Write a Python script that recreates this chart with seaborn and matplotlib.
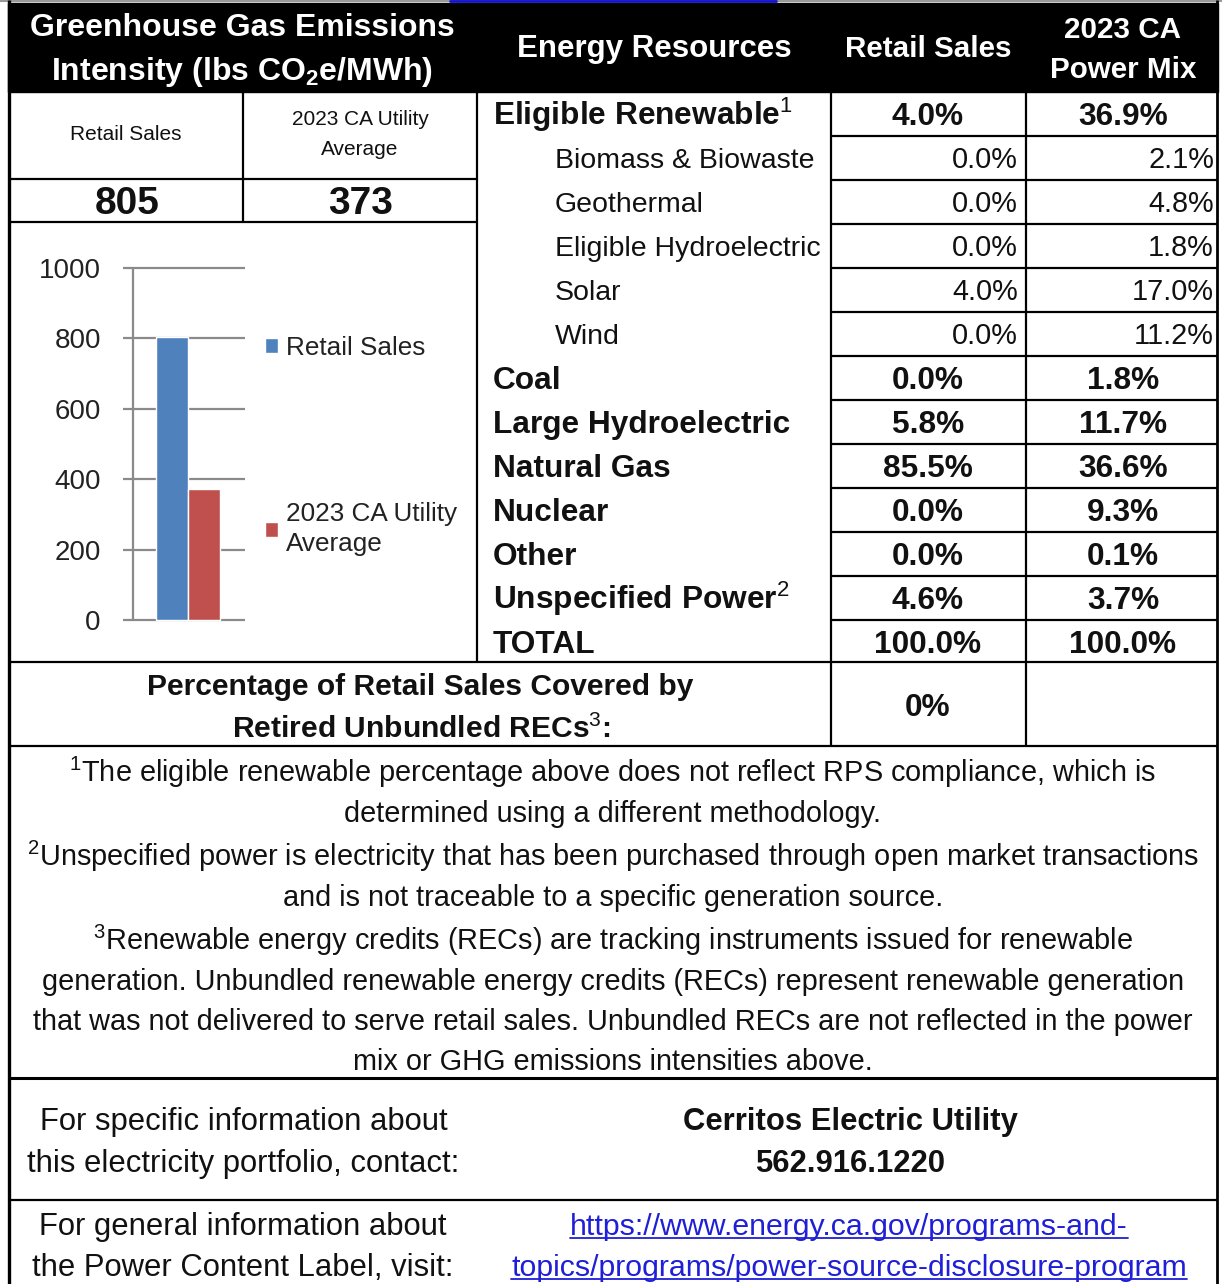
import numpy as np
import pandas as pd
import matplotlib
matplotlib.use('Agg')
import matplotlib.pyplot as plt
import seaborn as sns

# ---- data ----
ghg_series = ['Retail Sales', '2023 CA Utility Average']
ghg_values = [805, 373]
ghg_ticks = [0, 200, 400, 600, 800, 1000]
ghg_colors = ['#4F81BD', '#C0504D']

resources = ['Eligible Renewable', 'Biomass & Biowaste', 'Geothermal',
             'Eligible Hydroelectric', 'Solar', 'Wind', 'Coal',
             'Large Hydroelectric', 'Natural Gas', 'Nuclear', 'Other',
             'Unspecified Power', 'TOTAL']
retail_pct = [4.0, 0.0, 0.0, 0.0, 4.0, 0.0, 0.0, 5.8, 85.5, 0.0, 0.0, 4.6, 100.0]
mix_pct = [36.9, 2.1, 4.8, 1.8, 17.0, 11.2, 1.8, 11.7, 36.6, 9.3, 0.1, 3.7, 100.0]
sub_item = [False, True, True, True, True, True, False, False, False, False, False, False, False]
footmark = ['1', '', '', '', '', '', '', '', '', '', '', '2', '']

rec_covered = '0%'

footnotes = [
    ['$^1$The eligible renewable percentage above does not reflect RPS compliance, which is',
     'determined using a different methodology.'],
    ['$^2$Unspecified power is electricity that has been purchased through open market transactions',
     'and is not traceable to a specific generation source.'],
    ['$^3$Renewable energy credits (RECs) are tracking instruments issued for renewable',
     'generation. Unbundled renewable energy credits (RECs) represent renewable generation',
     'that was not delivered to serve retail sales. Unbundled RECs are not reflected in the power',
     'mix or GHG emissions intensities above.'],
]
contact_lines = ['Cerritos Electric Utility', '562.916.1220']
url_lines = ['https://www.energy.ca.gov/programs-and-',
             'topics/programs/power-source-disclosure-program']

W, H = 1222, 1284

sns.set_theme(style='white')
plt.rcParams['font.family'] = ['Liberation Sans', 'DejaVu Sans']
plt.rcParams['mathtext.fontset'] = 'custom'
plt.rcParams['mathtext.rm'] = 'Liberation Sans'
plt.rcParams['mathtext.bf'] = 'Liberation Sans:bold'
plt.rcParams['mathtext.it'] = 'Liberation Sans:italic'

fig = plt.figure(figsize=(W / 100, H / 100), dpi=100)
fig.patch.set_facecolor('white')
ax = fig.add_axes([0, 0, 1, 1])
ax.set_xlim(0, W)
ax.set_ylim(H, 0)
ax.axis('off')


def put(x, y, s, size, weight='normal', ha='center', color='#111111'):
    # y is the visual centre of the capitals; convert to baseline
    base = y + 0.358 * size * 100 / 72
    return ax.text(x, base, s, fontsize=size, fontweight=weight, ha=ha,
                   va='baseline', color=color)


def hline(y, x0, x1, lw=1.6):
    ax.plot([x0, x1], [y, y], color='black', lw=lw, solid_capstyle='butt')


def vline(x, y0, y1, lw=1.6):
    ax.plot([x, x], [y0, y1], color='black', lw=lw, solid_capstyle='butt')


# header band
ax.add_patch(plt.Rectangle((8, 3), 1210, 89, color='black', zorder=0))
ax.plot([0, W], [1, 1], color='#999999', lw=1.5)
ax.plot([450, 776], [1, 1], color='#1010D0', lw=2)

put(242, 25, 'Greenhouse Gas Emissions', 23, 'bold', color='white')
put(242, 69, r'Intensity (lbs CO$_\mathbf{2}$e/MWh)', 23, 'bold', color='white')
put(654, 46, 'Energy Resources', 22.5, 'bold', color='white')
put(928, 46, 'Retail Sales', 21.3, 'bold', color='white')
put(1123, 27, '2023 CA', 21.3, 'bold', color='white')
put(1123, 67, 'Power Mix', 21.3, 'bold', color='white')

# left panel
put(126, 133, 'Retail Sales', 15)
put(360, 118, '2023 CA Utility', 15)
put(360, 148, 'Average', 15)
put(127, 200, str(ghg_values[0]), 28, 'bold')
put(361, 200, str(ghg_values[1]), 28, 'bold')

# resource table
for i, name in enumerate(resources):
    yc = 114 + 44 * i
    label = name + ('$^{%s}$' % footmark[i] if footmark[i] else '')
    if sub_item[i]:
        put(555, yc, label, 20.5, ha='left')
        put(1018, yc, '%.1f%%' % retail_pct[i], 20.8, ha='right')
        put(1214, yc, '%.1f%%' % mix_pct[i], 20.8, ha='right')
    else:
        put(493, yc, label, 22.8, 'bold', ha='left')
        put(928, yc, '%.1f%%' % retail_pct[i], 22.8, 'bold')
        put(1123, yc, '%.1f%%' % mix_pct[i], 22.8, 'bold')
    if i < len(resources) - 1:
        hline(136 + 44 * i, 831, 1218)

# REC row
put(420, 684, 'Percentage of Retail Sales Covered by', 21.6, 'bold')
put(421, 727, 'Retired Unbundled RECs$^3$:', 21.6, 'bold')
put(928, 705, rec_covered, 22.8, 'bold')

# footnotes
y = 772
for para in footnotes:
    for line in para:
        put(613, y, line, 20.8)
        y += 40
    y += 4

# contact rows
put(244, 1119, 'For specific information about', 22.3)
put(243, 1161, 'this electricity portfolio, contact:', 22.3)
put(850, 1119, contact_lines[0], 22.3, 'bold')
put(850, 1161, contact_lines[1], 22.3, 'bold')
put(243, 1224, 'For general information about', 22.3)
put(243, 1265, 'the Power Content Label, visit:', 22.3)
link_texts = [put(849, 1224, url_lines[0], 21.8, color='#1F1FD8'),
              put(849, 1265, url_lines[1], 21.8, color='#1F1FD8')]

# grid lines of the label
hline(179, 8, 477)
hline(222, 8, 477)
hline(662, 8, 1218)
hline(746, 8, 1218)
hline(1078, 8, 1218, lw=2.2)
hline(1200, 8, 1218)
vline(9, 0, H, lw=2.4)
vline(1217, 0, H, lw=2.0)
vline(243, 92, 222)
vline(477, 92, 662)
vline(831, 92, 746)
vline(1026, 92, 746)

# ---- GHG bar chart ----
px = 352 / 1000.0
ybot, ytop = -10, 1010
cax = fig.add_axes([123 / W, (H - (620 - ybot * px)) / H, 122 / W,
                    (ytop - ybot) * px / H])
cax.patch.set_alpha(0)
df = pd.DataFrame({'group': ['GHG'] * 2, 'series': ghg_series, 'value': ghg_values})
sns.barplot(data=df, x='group', y='value', hue='series', palette=ghg_colors,
            width=0.5, saturation=1, ax=cax, zorder=3)
cax.set_xlim(-0.508, 0.445)
cax.set_ylim(ybot, ytop)
cax.set_yticks(ghg_ticks)
cax.set_xticks([])
cax.set_xlabel('')
cax.set_ylabel('')
cax.yaxis.grid(True, color='#8A8A8A', lw=1.6)
cax.set_axisbelow(True)
for sp in cax.spines.values():
    sp.set_visible(False)
cax.plot([-0.43, -0.43], [0, 1000], color='#8A8A8A', lw=1.6, zorder=2)
cax.tick_params(axis='y', length=0, pad=16, labelsize=20, labelcolor='#222222')

sns.move_legend(cax, 'upper left', bbox_to_anchor=(252 / W, 1 - 323 / H),
                bbox_transform=fig.transFigure, frameon=False, title=None,
                fontsize=18.8, handlelength=0.5, handleheight=0.5,
                handletextpad=0.3, labelspacing=5.45, borderpad=0)
leg = cax.get_legend()
leg.get_texts()[1].set_text('2023 CA Utility\nAverage')
for t in leg.get_texts():
    t.set_color('#222222')
    t.set_linespacing(1.3)

# underline the links
fig.canvas.draw()
inv = ax.transData.inverted()
for t in link_texts:
    bb = t.get_window_extent()
    (x0, _), (x1, _) = inv.transform([(bb.x0, bb.y0), (bb.x1, bb.y0)])
    yb = t.get_position()[1] + 3
    ax.plot([x0, x1], [yb, yb], color='#1F1FD8', lw=1.3)

fig.savefig('out.png', dpi=100, facecolor='white')
